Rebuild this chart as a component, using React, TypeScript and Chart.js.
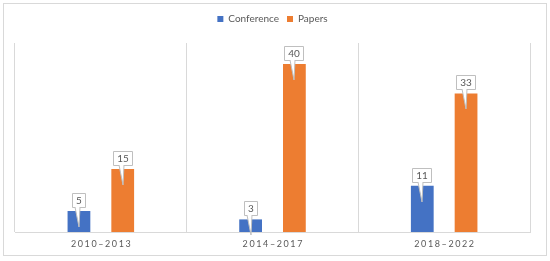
import React, { useEffect, useRef } from "react";
import { Chart, registerables } from "chart.js";

Chart.register(...registerables);

const categories = ["2010–2013", "2014–2017", "2018–2022"];
const conference = [5, 3, 11];
const papers = [15, 40, 33];
const seriesNames = ["Conference", "Papers"];
const yMax = 45;

const FONT = "Lato, 'Liberation Sans', sans-serif";
const TEXT = "#595959";

const framePlugin = {
  id: "frame",
  beforeInit(chart: any) {
    const lg = chart.legend;
    if (lg) {
      const orig = lg.fit.bind(lg);
      lg.fit = function () {
        orig();
        this.height += 9;
      };
    }
  },
  beforeDraw(chart: any) {
    const ctx = chart.ctx;
    ctx.save();
    ctx.fillStyle = "#ffffff";
    ctx.fillRect(0, 0, chart.width, chart.height);
    ctx.strokeStyle = "#d9d9d9";
    ctx.lineWidth = 1;
    ctx.strokeRect(3.5, 3.5, chart.width - 7, chart.height - 9);
    ctx.restore();
  },
  afterDatasetsDraw(chart: any) {
    const ctx = chart.ctx;
    const xs = chart.scales.x;
    ctx.save();
    // x labels
    ctx.font = `9px ${FONT}`;
    ctx.fillStyle = TEXT;
    ctx.textAlign = "center";
    ctx.textBaseline = "middle";
    try { (ctx as any).letterSpacing = "1.6px"; } catch (e) {}
    categories.forEach((c, i) => {
      ctx.fillText(c, xs.getPixelForValue(i) + 0.8, chart.chartArea.bottom + 12);
    });
    try { (ctx as any).letterSpacing = "0px"; } catch (e) {}
    // callouts
    ctx.font = `10px ${FONT}`;
    chart.data.datasets.forEach((ds: any, di: number) => {
      const meta = chart.getDatasetMeta(di);
      meta.data.forEach((bar: any, i: number) => {
        const txt = String(ds.data[i]);
        const tw = ctx.measureText(txt).width;
        const w = Math.round(tw + 8);
        const h = 14;
        const cx = Math.round(bar.x);
        const bottom = Math.round(bar.y) - 4;
        const left = cx - Math.round(w / 2);
        const top = bottom - h;
        // tail
        ctx.beginPath();
        ctx.moveTo(cx - 4, bottom);
        ctx.lineTo(cx, bottom + 20);
        ctx.lineTo(cx + 1, bottom);
        ctx.closePath();
        ctx.fillStyle = "#ffffff";
        ctx.fill();
        ctx.strokeStyle = "#bfbfbf";
        ctx.lineWidth = 1;
        ctx.beginPath();
        ctx.moveTo(cx - 4, bottom);
        ctx.lineTo(cx, bottom + 20);
        ctx.lineTo(cx + 1, bottom);
        ctx.stroke();
        // box
        ctx.fillStyle = "#ffffff";
        ctx.fillRect(left, top, w, h);
        ctx.beginPath();
        ctx.moveTo(cx - 4, bottom + 0.5);
        ctx.lineTo(left + 0.5, bottom + 0.5);
        ctx.lineTo(left + 0.5, top + 0.5);
        ctx.lineTo(left + w - 0.5, top + 0.5);
        ctx.lineTo(left + w - 0.5, bottom + 0.5);
        ctx.lineTo(cx + 1, bottom + 0.5);
        ctx.stroke();
        ctx.fillStyle = TEXT;
        ctx.textAlign = "center";
        ctx.textBaseline = "middle";
        ctx.fillText(txt, cx, top + h / 2 + 0.5);
      });
    });
    ctx.restore();
  },
};

export default function App() {
  const ref = useRef<HTMLCanvasElement>(null);
  useEffect(() => {
    document.body.style.margin = "0";
    const chart = new Chart(ref.current!, {
      type: "bar",
      data: {
        labels: categories,
        datasets: [
          {
            label: seriesNames[0],
            data: conference,
            backgroundColor: "#4472C4",
            barPercentage: 0.52,
            categoryPercentage: 0.51,
          },
          {
            label: seriesNames[1],
            data: papers,
            backgroundColor: "#ED7D31",
            barPercentage: 0.52,
            categoryPercentage: 0.51,
          },
        ],
      },
      options: {
        responsive: false,
        animation: false,
        layout: { padding: { top: 6, left: 15, right: 20, bottom: 29 } },
        plugins: {
          legend: {
            position: "top",
            labels: {
              boxWidth: 6,
              boxHeight: 6,
              padding: 8,
              color: TEXT,
              font: { size: 10, family: FONT },
            },
          },
          tooltip: { enabled: false },
        },
        scales: {
          x: {
            offset: true,
            grid: { offset: true, color: "#d9d9d9", drawTicks: false, tickLength: 0 },
            border: { display: true, color: "#d9d9d9" },
            ticks: { display: false },
          },
          y: {
            display: false,
            min: 0,
            max: yMax,
          },
        },
      },
      plugins: [framePlugin],
    });
    return () => chart.destroy();
  }, []);
  return (
    <div style={{ width: 550, height: 261 }}>
      <canvas ref={ref} width={550} height={261} />
    </div>
  );
}
